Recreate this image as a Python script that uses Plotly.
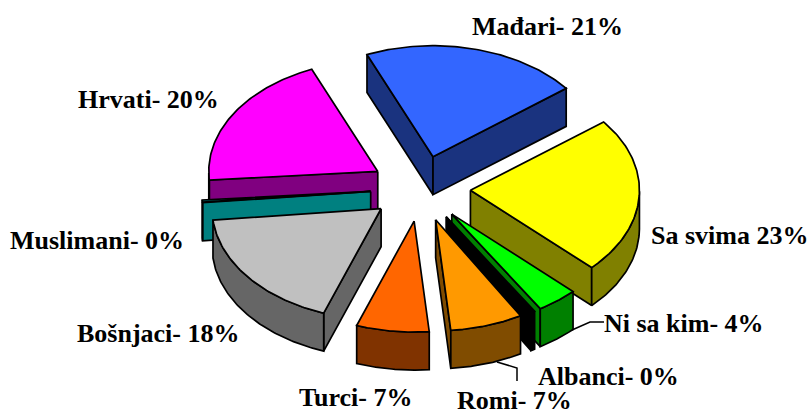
import numpy as np
import plotly.graph_objects as go

categories = ["Mađari", "Sa svima", "Ni sa kim", "Albanci", "Romi", "Turci", "Bošnjaci", "Muslimani", "Hrvati"]
values = [21, 23, 4, 0.4, 7, 7, 18, 0.4, 20]
label_texts = ["Mađari- 21%", "Sa svima 23%", "Ni sa kim- 4%", "Albanci- 0%", "Romi- 7%", "Turci- 7%", "Bošnjaci- 18%", "Muslimani- 0%", "Hrvati- 20%"]
top_colors = ["#3366FF", "#FFFF00", "#00FF00", "#000000", "#FF9900", "#FF6600", "#C0C0C0", "#008080", "#FF00FF"]
side_colors = ["#1A337F", "#808000", "#008000", "#000000", "#804C00", "#803300", "#666666", "#008080", "#800080"]
label_xy = [(547, 26), (729, 235), (684, 323), (608, 376), (514, 400), (355, 397), (158, 333), (97, 240), (148, 99)]

CX, CY, RX, RY, DEPTH, PULL, START = 420.5, 188.5, 169, 111, 38, 50, -23
LW = 1.7

fig = go.Figure()
def poly(xs, ys, fill):
    fig.add_trace(go.Scatter(x=xs, y=ys, mode="lines", fill="toself", fillcolor=fill,
                             line=dict(color="black", width=LW), hoverinfo="skip", showlegend=False))
def leader(xs, ys):
    fig.add_trace(go.Scatter(x=xs, y=ys, mode="lines", line=dict(color="black", width=1.5, simplify=False),
                             hoverinfo="skip", showlegend=False))

fractions = np.array(values) / sum(values) * 360
ends = START + np.cumsum(fractions)
starts = ends - fractions
pieces = []
for i in range(len(values)):
    a0, a1 = starts[i], ends[i]
    mid = np.radians((a0 + a1) / 2)
    ax = CX + PULL * np.sin(mid)
    ay = CY - PULL * RY / RX * np.cos(mid)
    pieces.append((i, a0, a1, ax, ay))

# painter's order: back slices first
order = sorted(pieces, key=lambda p: p[4])
for i, a0, a1, ax, ay in order:
    t = np.radians(np.linspace(a0, a1, 80))
    ex = ax + RX * np.sin(t)
    ey = ay - RY * np.cos(t)
    # radial walls, only those facing the viewer
    if np.sin(np.radians(a0)) < 0:
        poly([ax, ex[0], ex[0], ax, ax], [ay, ey[0], ey[0] + DEPTH, ay + DEPTH, ay], side_colors[i])
    if np.sin(np.radians(a1)) > 0:
        poly([ax, ex[-1], ex[-1], ax, ax], [ay, ey[-1], ey[-1] + DEPTH, ay + DEPTH, ay], side_colors[i])
    # outer wall on front half
    front = np.cos(t) <= 0.0
    if front.any():
        fx, fy = ex[front], ey[front]
        poly(np.r_[fx, fx[::-1], fx[0]], np.r_[fy, fy[::-1] + DEPTH, fy[0]], side_colors[i])
    # top
    poly(np.r_[ax, ex, ax], np.r_[ay, ey, ay], top_colors[i])

# leader lines start at the outer edge of their slices
leader([572, 590, 604], [330, 322, 322])
leader([497, 517, 517], [362, 368, 381])

for (x, y), s in zip(label_xy, label_texts):
    fig.add_annotation(x=x, y=y, text="<b>" + s + "</b>", showarrow=False, xanchor="center", yanchor="middle",
                       font=dict(family="Liberation Serif", size=26, color="black"))

fig.update_layout(width=809, height=414, margin=dict(l=0, r=0, t=0, b=0),
                  paper_bgcolor="white", plot_bgcolor="white",
                  xaxis=dict(range=[0, 809], visible=False, fixedrange=True),
                  yaxis=dict(range=[414, 0], visible=False, fixedrange=True))
fig.write_html("out.html", config={"displayModeBar": False},
               post_script="document.body.style.margin='0';document.body.style.overflow='hidden';")
